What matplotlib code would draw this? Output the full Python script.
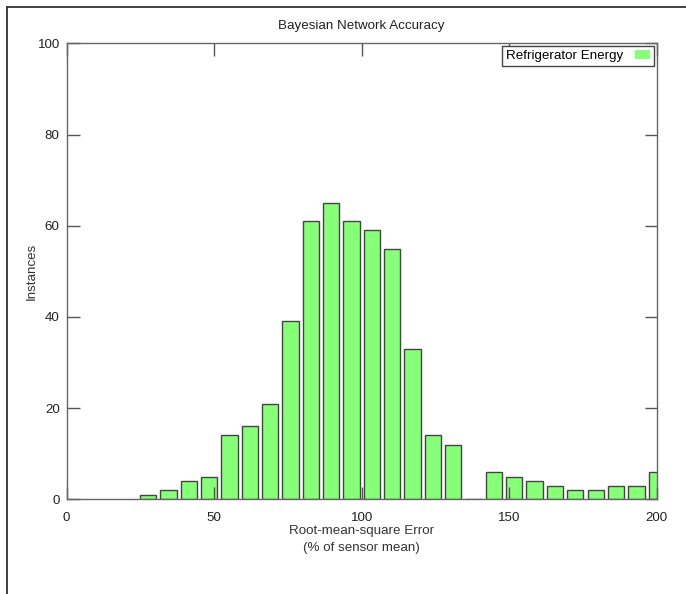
from matplotlib import pyplot as plt
from matplotlib.lines import Line2D
from matplotlib.patches import Patch

import numpy as np

# histogram of RMS error, 29 bins over 0..200 (bins 0-3 empty)
first_bin = 4
n_bins = 29
counts = [1, 2, 4, 5, 14, 16, 21, 39, 61, 65, 61, 59, 55, 33, 14, 12,
          0, 6, 5, 4, 3, 2, 2, 3, 3, 6]
series_label = 'Refrigerator Energy'
x_ticks = [0, 50, 100, 150, 200]
y_ticks = [0, 20, 40, 60, 80, 100]

plt.rcParams['font.family'] = ['Liberation Sans', 'DejaVu Sans']
plt.rcParams['font.size'] = 9.6

fig = plt.figure(figsize=(6.86, 5.94), dpi=100)
ax = fig.add_axes([0.0972, 0.1594, 0.8601, 0.7677])

bin_w = 200.0 / n_bins
centers = (first_bin + np.arange(len(counts))) * bin_w
green = '#88ff78'
ax.bar(centers, counts, width=0.8 * bin_w, color=green,
       edgecolor='#444444', linewidth=1.0)

ax.set_xlim(0, 200)
ax.set_ylim(0, 100)
ax.set_xticks(x_ticks)
ax.set_yticks(y_ticks)
ax.tick_params(direction='in', length=9, width=1, color='#555555',
               top=True, right=True, labelcolor='#222222', pad=5)
ax.tick_params(axis='x', labeltop=False, pad=9)
for s in ax.spines.values():
    s.set_color('#666666')
    s.set_linewidth(1.0)

ax.set_title('Bayesian Network Accuracy', fontsize=9.6, color='#222222', pad=10)
ax.set_xlabel('Root-mean-square Error\n(% of sensor mean)', color='#333333',
              linespacing=1.5, labelpad=1)
ax.set_ylabel('Instances', color='#333333', labelpad=0)

handle = Patch(facecolor=green, edgecolor='none')
leg = ax.legend([handle], [series_label], loc='upper right', markerfirst=False,
                fancybox=False, framealpha=1, borderpad=0.3, handlelength=1.1,
                handleheight=0.6, handletextpad=0.9, borderaxespad=0.2)
leg.get_frame().set_edgecolor('#444444')
leg.get_frame().set_linewidth(1.0)

# outer frame (top and left edges only)
fig.add_artist(Line2D([0.0098, 1.0], [0.9877, 0.9877], color='#333333', lw=1.3))
fig.add_artist(Line2D([0.0098, 0.0098], [0.0, 0.9877], color='#333333', lw=1.3))

fig.savefig('out.png', dpi=100)
